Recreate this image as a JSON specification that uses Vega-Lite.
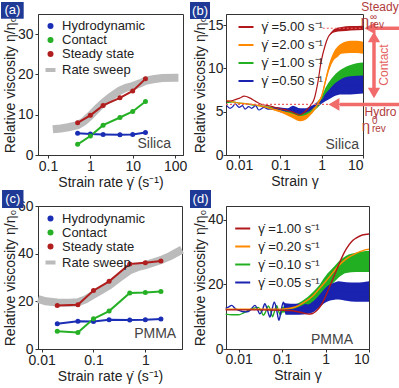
{
"$schema":"https://vega.github.io/schema/vega-lite/v6.json",
"padding":0,
"background":"white",
"columns":2,
"spacing":{"row":51,"column":43},
"bounds":"flush",
"resolve":{"scale":{"color":"independent","fill":"independent"},"legend":{"color":"independent","fill":"independent"}},
"config":{
 "font":"Liberation Sans",
 "view":{"stroke":"#333","strokeWidth":1},
 "axis":{"grid":false,"domainColor":"#333","tickColor":"#333","labelFontSize":14,"titleFontSize":14,"titleFontWeight":"normal","labelColor":"#222","titleColor":"#222","tickSize":3,"labelFont":"Liberation Sans","titleFont":"Liberation Sans"},
 "legend":{"labelFont":"Liberation Sans","labelColor":"#222"},
 "text":{"font":"Liberation Sans"}
},
"datasets":{
 "a_sweep":[{"series":"Rate sweep","x":0.13,"y":6.4},{"series":"Rate sweep","x":0.2,"y":6.6},{"series":"Rate sweep","x":0.3,"y":6.9},{"series":"Rate sweep","x":0.5,"y":7.4},{"series":"Rate sweep","x":0.7,"y":8.3},{"series":"Rate sweep","x":1,"y":9.8},{"series":"Rate sweep","x":1.5,"y":11.7},{"series":"Rate sweep","x":2,"y":12.9},{"series":"Rate sweep","x":3,"y":14.4},{"series":"Rate sweep","x":5,"y":16.0},{"series":"Rate sweep","x":7,"y":16.7},{"series":"Rate sweep","x":10,"y":17.1},{"series":"Rate sweep","x":15,"y":17.8},{"series":"Rate sweep","x":20,"y":18.4},{"series":"Rate sweep","x":30,"y":18.8},{"series":"Rate sweep","x":50,"y":19.1},{"series":"Rate sweep","x":100,"y":19.2},{"series":"Rate sweep","x":120,"y":19.2}],
 "a_pts":[
  {"series":"Hydrodynamic","x":0.5,"y":5.4},{"series":"Hydrodynamic","x":1,"y":5.2},{"series":"Hydrodynamic","x":2,"y":5.1},{"series":"Hydrodynamic","x":5,"y":5.0},{"series":"Hydrodynamic","x":10,"y":5.1},{"series":"Hydrodynamic","x":20,"y":5.6},
  {"series":"Contact","x":0.5,"y":2.65},{"series":"Contact","x":1,"y":4.7},{"series":"Contact","x":2,"y":7.4},{"series":"Contact","x":5,"y":9.3},{"series":"Contact","x":10,"y":10.8},{"series":"Contact","x":20,"y":13.3},
  {"series":"Steady state","x":0.5,"y":8.0},{"series":"Steady state","x":1,"y":9.85},{"series":"Steady state","x":2,"y":12.3},{"series":"Steady state","x":5,"y":14.2},{"series":"Steady state","x":10,"y":15.9},{"series":"Steady state","x":20,"y":18.9}],
 "c_sweep":[{"series":"Rate sweep","x":0.0085,"y":21.0},{"series":"Rate sweep","x":0.012,"y":20.0},{"series":"Rate sweep","x":0.02,"y":19.5},{"series":"Rate sweep","x":0.035,"y":19.4},{"series":"Rate sweep","x":0.05,"y":19.6},{"series":"Rate sweep","x":0.07,"y":20.8},{"series":"Rate sweep","x":0.1,"y":22.8},{"series":"Rate sweep","x":0.15,"y":25.0},{"series":"Rate sweep","x":0.2,"y":26.7},{"series":"Rate sweep","x":0.3,"y":29.6},{"series":"Rate sweep","x":0.5,"y":33.0},{"series":"Rate sweep","x":0.7,"y":34.3},{"series":"Rate sweep","x":1,"y":35.2},{"series":"Rate sweep","x":2,"y":37.3},{"series":"Rate sweep","x":3,"y":39.0},{"series":"Rate sweep","x":5.1,"y":41.7}],
 "c_pts":[
  {"series":"Hydrodynamic","x":0.02,"y":10.6},{"series":"Hydrodynamic","x":0.05,"y":11.6},{"series":"Hydrodynamic","x":0.1,"y":11.5},{"series":"Hydrodynamic","x":0.2,"y":12.3},{"series":"Hydrodynamic","x":0.5,"y":12.2},{"series":"Hydrodynamic","x":1,"y":12.3},{"series":"Hydrodynamic","x":2,"y":12.6},
  {"series":"Contact","x":0.02,"y":7.4},{"series":"Contact","x":0.05,"y":6.9},{"series":"Contact","x":0.1,"y":12.7},{"series":"Contact","x":0.2,"y":15.9},{"series":"Contact","x":0.5,"y":23.5},{"series":"Contact","x":1,"y":23.7},{"series":"Contact","x":2,"y":24.1},
  {"series":"Steady state","x":0.02,"y":18.3},{"series":"Steady state","x":0.05,"y":18.6},{"series":"Steady state","x":0.1,"y":24.5},{"series":"Steady state","x":0.2,"y":28.4},{"series":"Steady state","x":0.5,"y":35.7},{"series":"Steady state","x":1,"y":36.2},{"series":"Steady state","x":2,"y":36.9}],
 "b_curves":[
  {"s":"1.00","x":0.005,"y":6.05,"lo":6.05,"hi":6.05},{"s":"1.00","x":0.007,"y":6.15,"lo":6.15,"hi":6.15},{"s":"1.00","x":0.01,"y":6.0,"lo":6.0,"hi":6.0},{"s":"1.00","x":0.014,"y":5.95,"lo":5.95,"hi":5.95},{"s":"1.00","x":0.02,"y":5.8,"lo":5.8,"hi":5.8},{"s":"1.00","x":0.03,"y":5.7,"lo":5.7,"hi":5.7},{"s":"1.00","x":0.05,"y":5.5,"lo":5.4,"hi":5.6},{"s":"1.00","x":0.07,"y":5.35,"lo":5.2,"hi":5.5},{"s":"1.00","x":0.1,"y":5.2,"lo":5.0,"hi":5.4},{"s":"1.00","x":0.15,"y":5.0,"lo":4.8,"hi":5.2},{"s":"1.00","x":0.2,"y":4.85,"lo":4.65,"hi":5.05},{"s":"1.00","x":0.3,"y":4.65,"lo":4.45,"hi":4.85},{"s":"1.00","x":0.4,"y":4.7,"lo":4.5,"hi":4.9},{"s":"1.00","x":0.5,"y":4.95,"lo":4.75,"hi":5.15},{"s":"1.00","x":0.6,"y":5.2,"lo":4.95,"hi":5.45},{"s":"1.00","x":0.7,"y":5.5,"lo":5.25,"hi":5.75},{"s":"1.00","x":0.8,"y":5.8,"lo":5.5,"hi":6.1},{"s":"1.00","x":1.0,"y":6.4,"lo":6.05,"hi":6.75},{"s":"1.00","x":1.2,"y":7.2,"lo":6.75,"hi":7.65},{"s":"1.00","x":1.5,"y":7.9,"lo":7.35,"hi":8.45},{"s":"1.00","x":2,"y":8.6,"lo":8.0,"hi":9.2},{"s":"1.00","x":3,"y":9.2,"lo":8.5,"hi":9.9},{"s":"1.00","x":5,"y":9.6,"lo":8.8,"hi":10.4},{"s":"1.00","x":7,"y":9.7,"lo":8.8,"hi":10.6},{"s":"1.00","x":10,"y":9.8,"lo":8.8,"hi":10.7},
  {"s":"0.50","x":0.005,"y":5.7,"lo":5.7,"hi":5.7},{"s":"0.50","x":0.006,"y":5.4,"lo":5.4,"hi":5.4},{"s":"0.50","x":0.007,"y":5.6,"lo":5.6,"hi":5.6},{"s":"0.50","x":0.008,"y":5.9,"lo":5.9,"hi":5.9},{"s":"0.50","x":0.01,"y":5.5,"lo":5.5,"hi":5.5},{"s":"0.50","x":0.012,"y":5.7,"lo":5.7,"hi":5.7},{"s":"0.50","x":0.014,"y":5.3,"lo":5.3,"hi":5.3},{"s":"0.50","x":0.017,"y":5.6,"lo":5.6,"hi":5.6},{"s":"0.50","x":0.02,"y":5.4,"lo":5.4,"hi":5.4},{"s":"0.50","x":0.025,"y":5.7,"lo":5.7,"hi":5.7},{"s":"0.50","x":0.03,"y":5.2,"lo":5.2,"hi":5.2},{"s":"0.50","x":0.04,"y":5.5,"lo":5.5,"hi":5.5},{"s":"0.50","x":0.05,"y":5.3,"lo":5.3,"hi":5.3},{"s":"0.50","x":0.07,"y":5.4,"lo":5.25,"hi":5.55},{"s":"0.50","x":0.1,"y":5.2,"lo":4.95,"hi":5.5},{"s":"0.50","x":0.15,"y":5.1,"lo":4.85,"hi":5.4},{"s":"0.50","x":0.2,"y":5.2,"lo":4.85,"hi":5.7},{"s":"0.50","x":0.3,"y":5.0,"lo":4.75,"hi":5.4},{"s":"0.50","x":0.4,"y":5.1,"lo":4.85,"hi":5.4},{"s":"0.50","x":0.5,"y":5.3,"lo":5.05,"hi":5.55},{"s":"0.50","x":0.7,"y":5.7,"lo":5.45,"hi":5.95},{"s":"0.50","x":1.0,"y":6.3,"lo":5.95,"hi":6.65},{"s":"0.50","x":1.5,"y":7.0,"lo":6.45,"hi":7.55},{"s":"0.50","x":2,"y":7.5,"lo":6.8,"hi":8.2},{"s":"0.50","x":3,"y":7.9,"lo":7.0,"hi":8.8},{"s":"0.50","x":5,"y":8.0,"lo":7.0,"hi":9.1},{"s":"0.50","x":10,"y":8.1,"lo":7.1,"hi":9.2},
  {"s":"2.00","x":0.005,"y":6.3,"lo":6.3,"hi":6.3},{"s":"2.00","x":0.007,"y":6.15,"lo":6.15,"hi":6.15},{"s":"2.00","x":0.01,"y":6.0,"lo":6.0,"hi":6.0},{"s":"2.00","x":0.014,"y":5.95,"lo":5.95,"hi":5.95},{"s":"2.00","x":0.02,"y":5.85,"lo":5.85,"hi":5.85},{"s":"2.00","x":0.03,"y":5.7,"lo":5.7,"hi":5.7},{"s":"2.00","x":0.05,"y":5.45,"lo":5.35,"hi":5.55},{"s":"2.00","x":0.07,"y":5.3,"lo":5.15,"hi":5.45},{"s":"2.00","x":0.1,"y":5.1,"lo":4.9,"hi":5.3},{"s":"2.00","x":0.15,"y":4.8,"lo":4.55,"hi":5.05},{"s":"2.00","x":0.2,"y":4.5,"lo":4.25,"hi":4.8},{"s":"2.00","x":0.3,"y":4.2,"lo":3.9,"hi":4.5},{"s":"2.00","x":0.4,"y":4.35,"lo":4.05,"hi":4.65},{"s":"2.00","x":0.5,"y":4.7,"lo":4.45,"hi":4.95},{"s":"2.00","x":0.6,"y":5.1,"lo":4.85,"hi":5.35},{"s":"2.00","x":0.7,"y":5.5,"lo":5.25,"hi":5.75},{"s":"2.00","x":0.8,"y":5.9,"lo":5.65,"hi":6.15},{"s":"2.00","x":1.0,"y":6.8,"lo":6.55,"hi":7.05},{"s":"2.00","x":1.2,"y":8.3,"lo":8.0,"hi":8.6},{"s":"2.00","x":1.5,"y":10.1,"lo":9.7,"hi":10.5},{"s":"2.00","x":2,"y":11.5,"lo":11.0,"hi":12.0},{"s":"2.00","x":2.5,"y":12.0,"lo":11.4,"hi":12.6},{"s":"2.00","x":3,"y":12.3,"lo":11.7,"hi":12.9},{"s":"2.00","x":5,"y":12.5,"lo":11.8,"hi":13.2},{"s":"2.00","x":7,"y":12.5,"lo":11.8,"hi":13.2},{"s":"2.00","x":10,"y":12.4,"lo":11.7,"hi":13.1},
  {"s":"5.00","x":0.005,"y":6.2,"lo":6.2,"hi":6.2},{"s":"5.00","x":0.007,"y":6.3,"lo":6.3,"hi":6.3},{"s":"5.00","x":0.01,"y":6.55,"lo":6.55,"hi":6.55},{"s":"5.00","x":0.0133,"y":6.8,"lo":6.8,"hi":6.8},{"s":"5.00","x":0.018,"y":6.6,"lo":6.6,"hi":6.6},{"s":"5.00","x":0.025,"y":6.2,"lo":6.2,"hi":6.2},{"s":"5.00","x":0.033,"y":5.9,"lo":5.9,"hi":5.9},{"s":"5.00","x":0.05,"y":5.7,"lo":5.7,"hi":5.7},{"s":"5.00","x":0.07,"y":5.55,"lo":5.55,"hi":5.55},{"s":"5.00","x":0.1,"y":5.35,"lo":5.35,"hi":5.35},{"s":"5.00","x":0.15,"y":5.15,"lo":5.15,"hi":5.15},{"s":"5.00","x":0.2,"y":4.95,"lo":4.95,"hi":4.95},{"s":"5.00","x":0.28,"y":4.65,"lo":4.65,"hi":4.65},{"s":"5.00","x":0.35,"y":4.8,"lo":4.8,"hi":4.8},{"s":"5.00","x":0.46,"y":5.35,"lo":5.35,"hi":5.35},{"s":"5.00","x":0.55,"y":5.8,"lo":5.8,"hi":5.8},{"s":"5.00","x":0.66,"y":6.5,"lo":6.5,"hi":6.5},{"s":"5.00","x":0.8,"y":8.3,"lo":8.3,"hi":8.3},{"s":"5.00","x":0.96,"y":10.7,"lo":10.7,"hi":10.7},{"s":"5.00","x":1.2,"y":12.6,"lo":12.6,"hi":12.6},{"s":"5.00","x":1.43,"y":13.6,"lo":13.6,"hi":13.6},{"s":"5.00","x":1.7,"y":14.1,"lo":14.0,"hi":14.2},{"s":"5.00","x":2.07,"y":14.4,"lo":14.2,"hi":14.6},{"s":"5.00","x":3,"y":14.55,"lo":14.3,"hi":14.8},{"s":"5.00","x":5,"y":14.65,"lo":14.4,"hi":14.9},{"s":"5.00","x":10,"y":14.7,"lo":14.45,"hi":14.95}],
 "d_curves":[
  {"s":"0.10","x":0.005,"y":10.8,"lo":10.8,"hi":10.8},{"s":"0.10","x":0.007,"y":10.6,"lo":10.6,"hi":10.6},{"s":"0.10","x":0.01,"y":10.6,"lo":10.6,"hi":10.6},{"s":"0.10","x":0.013,"y":11.2,"lo":11.2,"hi":11.2},{"s":"0.10","x":0.017,"y":12.0,"lo":12.0,"hi":12.0},{"s":"0.10","x":0.022,"y":12.6,"lo":12.6,"hi":12.6},{"s":"0.10","x":0.028,"y":12.9,"lo":12.9,"hi":12.9},{"s":"0.10","x":0.033,"y":11.8,"lo":11.8,"hi":11.8},{"s":"0.10","x":0.037,"y":10.4,"lo":10.4,"hi":10.4},{"s":"0.10","x":0.042,"y":11.6,"lo":11.6,"hi":11.6},{"s":"0.10","x":0.048,"y":13.3,"lo":13.3,"hi":13.3},{"s":"0.10","x":0.054,"y":12.0,"lo":12.0,"hi":12.0},{"s":"0.10","x":0.06,"y":10.0,"lo":10.0,"hi":10.0},{"s":"0.10","x":0.067,"y":11.8,"lo":11.8,"hi":11.8},{"s":"0.10","x":0.075,"y":13.4,"lo":13.4,"hi":13.4},{"s":"0.10","x":0.084,"y":11.5,"lo":11.5,"hi":11.5},{"s":"0.10","x":0.092,"y":10.5,"lo":10.5,"hi":10.5},{"s":"0.10","x":0.1,"y":12.0,"lo":11.2,"hi":13.0},{"s":"0.10","x":0.13,"y":12.3,"lo":11.4,"hi":13.3},{"s":"0.10","x":0.2,"y":12.8,"lo":11.8,"hi":13.8},{"s":"0.10","x":0.3,"y":13.8,"lo":12.6,"hi":15.0},{"s":"0.10","x":0.5,"y":15.9,"lo":14.3,"hi":17.5},{"s":"0.10","x":0.7,"y":17.8,"lo":16.0,"hi":19.6},{"s":"0.10","x":1.0,"y":20.3,"lo":18.0,"hi":22.6},{"s":"0.10","x":1.5,"y":22.8,"lo":20.4,"hi":25.2},{"s":"0.10","x":2,"y":24.6,"lo":22.1,"hi":27.1},{"s":"0.10","x":3,"y":26.2,"lo":23.5,"hi":28.9},{"s":"0.10","x":5,"y":26.8,"lo":23.8,"hi":29.8},{"s":"0.10","x":7,"y":27.0,"lo":23.8,"hi":30.2},{"s":"0.10","x":10,"y":27.0,"lo":23.8,"hi":30.4},
  {"s":"0.05","x":0.005,"y":12.6,"lo":12.6,"hi":12.6},{"s":"0.05","x":0.0058,"y":13.0,"lo":13.0,"hi":13.0},{"s":"0.05","x":0.0069,"y":13.5,"lo":13.5,"hi":13.5},{"s":"0.05","x":0.0082,"y":12.6,"lo":12.6,"hi":12.6},{"s":"0.05","x":0.0098,"y":12.0,"lo":12.0,"hi":12.0},{"s":"0.05","x":0.012,"y":11.6,"lo":11.6,"hi":11.6},{"s":"0.05","x":0.0145,"y":11.5,"lo":11.5,"hi":11.5},{"s":"0.05","x":0.0167,"y":11.6,"lo":11.6,"hi":11.6},{"s":"0.05","x":0.02,"y":12.6,"lo":12.6,"hi":12.6},{"s":"0.05","x":0.0237,"y":13.5,"lo":13.5,"hi":13.5},{"s":"0.05","x":0.027,"y":12.3,"lo":12.3,"hi":12.3},{"s":"0.05","x":0.0306,"y":10.9,"lo":10.9,"hi":10.9},{"s":"0.05","x":0.035,"y":12.0,"lo":12.0,"hi":12.0},{"s":"0.05","x":0.04,"y":14.0,"lo":14.0,"hi":14.0},{"s":"0.05","x":0.046,"y":12.0,"lo":12.0,"hi":12.0},{"s":"0.05","x":0.0522,"y":9.9,"lo":9.9,"hi":9.9},{"s":"0.05","x":0.058,"y":12.0,"lo":12.0,"hi":12.0},{"s":"0.05","x":0.066,"y":14.5,"lo":14.5,"hi":14.5},{"s":"0.05","x":0.075,"y":12.0,"lo":12.0,"hi":12.0},{"s":"0.05","x":0.0842,"y":8.9,"lo":8.9,"hi":8.9},{"s":"0.05","x":0.095,"y":12.0,"lo":12.0,"hi":12.0},{"s":"0.05","x":0.1065,"y":14.5,"lo":14.5,"hi":14.5},{"s":"0.05","x":0.12,"y":12.2,"lo":10.6,"hi":14.2},{"s":"0.05","x":0.2,"y":12.0,"lo":10.6,"hi":14.0},{"s":"0.05","x":0.3,"y":12.0,"lo":10.7,"hi":14.0},{"s":"0.05","x":0.4,"y":12.2,"lo":10.9,"hi":13.8},{"s":"0.05","x":0.5,"y":12.9,"lo":11.3,"hi":14.6},{"s":"0.05","x":0.7,"y":14.6,"lo":12.8,"hi":16.6},{"s":"0.05","x":1.0,"y":16.6,"lo":14.4,"hi":19.0},{"s":"0.05","x":1.5,"y":17.6,"lo":15.2,"hi":20.4},{"s":"0.05","x":2,"y":18.0,"lo":15.3,"hi":21.0},{"s":"0.05","x":3,"y":17.8,"lo":14.9,"hi":20.7},{"s":"0.05","x":5,"y":17.6,"lo":14.6,"hi":20.6},{"s":"0.05","x":10,"y":17.8,"lo":14.6,"hi":21.0},
  {"s":"0.20","x":0.005,"y":12.3,"lo":12.3,"hi":12.3},{"s":"0.20","x":0.01,"y":12.3,"lo":12.3,"hi":12.3},{"s":"0.20","x":0.03,"y":12.3,"lo":12.3,"hi":12.3},{"s":"0.20","x":0.1,"y":12.35,"lo":12.35,"hi":12.35},{"s":"0.20","x":0.15,"y":12.6,"lo":12.6,"hi":12.6},{"s":"0.20","x":0.2,"y":13.0,"lo":13.0,"hi":13.0},{"s":"0.20","x":0.3,"y":14.2,"lo":14.2,"hi":14.2},{"s":"0.20","x":0.4,"y":15.3,"lo":15.3,"hi":15.3},{"s":"0.20","x":0.5,"y":16.3,"lo":16.3,"hi":16.3},{"s":"0.20","x":0.7,"y":18.5,"lo":18.5,"hi":18.5},{"s":"0.20","x":1,"y":20.9,"lo":20.9,"hi":20.9},{"s":"0.20","x":1.5,"y":23.8,"lo":23.8,"hi":23.8},{"s":"0.20","x":2,"y":25.8,"lo":25.8,"hi":25.8},{"s":"0.20","x":3,"y":27.9,"lo":27.9,"hi":27.9},{"s":"0.20","x":5,"y":29.6,"lo":29.6,"hi":29.6},{"s":"0.20","x":7,"y":30.4,"lo":30.4,"hi":30.4},{"s":"0.20","x":10,"y":30.9,"lo":30.9,"hi":30.9},
  {"s":"1.00","x":0.005,"y":12.1,"lo":12.1,"hi":12.1},{"s":"1.00","x":0.03,"y":12.1,"lo":12.1,"hi":12.1},{"s":"1.00","x":0.1,"y":12.0,"lo":12.0,"hi":12.0},{"s":"1.00","x":0.15,"y":11.9,"lo":11.9,"hi":11.9},{"s":"1.00","x":0.2,"y":11.7,"lo":11.7,"hi":11.7},{"s":"1.00","x":0.3,"y":11.2,"lo":11.2,"hi":11.2},{"s":"1.00","x":0.4,"y":10.8,"lo":10.8,"hi":10.8},{"s":"1.00","x":0.5,"y":11.0,"lo":11.0,"hi":11.0},{"s":"1.00","x":0.6,"y":11.7,"lo":11.7,"hi":11.7},{"s":"1.00","x":0.7,"y":12.6,"lo":12.6,"hi":12.6},{"s":"1.00","x":0.85,"y":14.3,"lo":14.3,"hi":14.3},{"s":"1.00","x":1,"y":16.3,"lo":16.3,"hi":16.3},{"s":"1.00","x":1.2,"y":18.8,"lo":18.8,"hi":18.8},{"s":"1.00","x":1.5,"y":22.0,"lo":22.0,"hi":22.0},{"s":"1.00","x":2,"y":26.0,"lo":26.0,"hi":26.0},{"s":"1.00","x":2.5,"y":29.0,"lo":29.0,"hi":29.0},{"s":"1.00","x":3,"y":31.0,"lo":31.0,"hi":31.0},{"s":"1.00","x":4,"y":33.3,"lo":33.3,"hi":33.3},{"s":"1.00","x":5,"y":34.3,"lo":34.3,"hi":34.3},{"s":"1.00","x":7,"y":35.3,"lo":35.3,"hi":35.3},{"s":"1.00","x":10,"y":35.6,"lo":35.6,"hi":35.6}],
 "one":[{}]
},
"concat":[
 {
  "width":145,"height":141,
  "layer":[
   {"data":{"name":"a_sweep"},"mark":{"type":"line","strokeWidth":8,"strokeCap":"butt"},
    "encoding":{
     "x":{"field":"x","type":"quantitative","scale":{"type":"log","domain":[0.058,154],"nice":false},"axis":{"values":[0.1,1,10,100],"format":"~g","title":"Strain rate γ̇ (s⁻¹)","labelPadding":1,"titlePadding":2}},
     "y":{"field":"y","type":"quantitative","scale":{"domain":[0,35],"nice":false},"axis":{"values":[0,10,20,30],"title":"Relative viscosity η/η₀","labelPadding":2,"titlePadding":0}},
     "color":{"field":"series","type":"nominal","scale":{"domain":["Hydrodynamic","Contact","Steady state","Rate sweep"],"range":["#1a2eb5","#25b025","#b01e1e","#bbbbbb"]},
      "legend":{"orient":"none","legendX":6,"legendY":5.5,"title":null,"labelFontSize":13,"rowPadding":0,"labelOffset":5,"padding":0,
       "encode":{"symbols":{"update":{
        "shape":{"signal":"datum.value === 'Rate sweep' ? 'stroke' : 'circle'"},
        "size":{"signal":"datum.value === 'Rate sweep' ? 100 : 36"},
        "strokeWidth":{"signal":"datum.value === 'Rate sweep' ? 4 : 0"},
        "stroke":{"signal":"datum.value === 'Rate sweep' ? '#bbbbbb' : 'transparent'"},
        "fill":{"signal":"datum.value === 'Hydrodynamic' ? '#1a2eb5' : datum.value === 'Contact' ? '#25b025' : datum.value === 'Steady state' ? '#b01e1e' : 'transparent'"},
        "opacity":{"value":1}}}}}}}},
   {"data":{"name":"a_pts"},"mark":{"type":"line","strokeWidth":2},
    "encoding":{"x":{"field":"x","type":"quantitative"},"y":{"field":"y","type":"quantitative"},"color":{"field":"series","type":"nominal"}}},
   {"data":{"name":"a_pts"},"mark":{"type":"point","filled":true,"size":25,"opacity":1},
    "encoding":{"x":{"field":"x","type":"quantitative"},"y":{"field":"y","type":"quantitative"},"color":{"field":"series","type":"nominal"}}},
   {"data":{"name":"one"},"mark":{"type":"text","text":"Silica","align":"right","baseline":"middle","fontSize":14,"color":"#444"},"encoding":{"x":{"datum":80},"y":{"datum":2.73}}},
   {"data":{"name":"one"},"mark":{"type":"rect","color":"#1f3a96"},"encoding":{"x":{"datum":0.00776},"x2":{"datum":0.02665},"y":{"datum":37.98},"y2":{"datum":33.83}}},
   {"data":{"name":"one"},"mark":{"type":"text","text":"(a)","color":"white","fontSize":13,"align":"center","baseline":"middle"},"encoding":{"x":{"datum":0.01438},"y":{"datum":35.91}}}
  ]
 },
 {
  "width":137,"height":141,
  "layer":[
   {"data":{"name":"b_curves"},"mark":{"type":"area","opacity":1,"interpolate":"monotone"},
    "encoding":{
     "x":{"field":"x","type":"quantitative","scale":{"type":"log","domain":[0.0048,10],"nice":false},"axis":{"values":[0.01,0.1,1,10],"format":"~g","title":"Strain γ","labelPadding":0,"titlePadding":2}},
     "y":{"field":"lo","type":"quantitative","scale":{"domain":[0,16.3],"nice":false},"axis":{"values":[0,5,10,15],"title":"Relative viscosity η/η₀","labelPadding":0,"titlePadding":0}},
     "y2":{"field":"hi"},
     "color":{"field":"s","type":"nominal","scale":{"domain":["5.00","2.00","1.00","0.50"],"range":["#b0181c","#ff8a00","#22b022","#1a22b0"]},
      "legend":{"orient":"none","legendX":11.5,"legendY":4.5,"title":null,"symbolType":"stroke","symbolSize":225,"symbolStrokeWidth":2,"labelFontSize":13,"labelOffset":7,"rowPadding":2,"padding":0,"labelExpr":"'γ̇ =' + datum.label + ' s⁻¹'",
       "encode":{"symbols":{"update":{"shape":{"value":"stroke"},"strokeWidth":{"value":2},"fill":{"value":"transparent"},"opacity":{"value":1},
        "stroke":{"signal":"datum.value === '5.00' ? '#b0181c' : datum.value === '2.00' ? '#ff8a00' : datum.value === '1.00' ? '#22b022' : '#1a22b0'"}}}}}}}},
   {"data":{"name":"b_curves"},"mark":{"type":"line","strokeWidth":1.2,"interpolate":"monotone"},
    "encoding":{"x":{"field":"x","type":"quantitative"},"y":{"field":"y","type":"quantitative"},
     "color":{"field":"s","type":"nominal"}}},
   {"data":{"name":"one"},"mark":{"type":"rule","color":"#f06060","strokeWidth":1.2,"strokeDash":[2,2]},"encoding":{"x":{"datum":0.0048},"x2":{"datum":10},"y":{"datum":5.85}}},
   {"data":{"name":"one"},"mark":{"type":"rule","color":"#f06060","strokeWidth":1.2,"strokeDash":[2,2]},"encoding":{"x":{"datum":1.06},"x2":{"datum":10},"y":{"datum":14.65}}},
   {"data":{"name":"one"},"mark":{"type":"rule","color":"#f26b6b","strokeWidth":3.5},"encoding":{"x":{"datum":15.6},"x2":{"datum":83.3},"y":{"datum":14.65}}},
   {"data":{"name":"one"},"mark":{"type":"rule","color":"#f26b6b","strokeWidth":3.5},"encoding":{"x":{"datum":2.77},"x2":{"datum":83.3},"y":{"datum":5.85}}},
   {"data":{"name":"one"},"mark":{"type":"rule","color":"#f26b6b","strokeWidth":3.5},"encoding":{"x":{"datum":18.46},"y":{"datum":13.64},"y2":{"datum":7.17}}},
   {"data":{"name":"one"},"mark":{"type":"point","shape":"triangle-left","filled":true,"size":160,"opacity":1,"color":"#f26b6b"},"encoding":{"x":{"datum":14.8},"y":{"datum":14.65}}},
   {"data":{"name":"one"},"mark":{"type":"point","shape":"triangle-left","filled":true,"size":160,"opacity":1,"color":"#f26b6b"},"encoding":{"x":{"datum":1.98},"y":{"datum":5.85}}},
   {"data":{"name":"one"},"mark":{"type":"point","shape":"triangle-up","filled":true,"size":150,"opacity":1,"color":"#f26b6b"},"encoding":{"x":{"datum":18.46},"y":{"datum":13.64}}},
   {"data":{"name":"one"},"mark":{"type":"point","shape":"triangle-down","filled":true,"size":150,"opacity":1,"color":"#f26b6b"},"encoding":{"x":{"datum":18.46},"y":{"datum":7.17}}},
   {"data":{"name":"one"},"mark":{"type":"text","text":"Contact","angle":270,"align":"center","baseline":"middle","fontSize":12,"color":"#e46060"},"encoding":{"x":{"datum":32.3},"y":{"datum":10.4}}},
   {"data":{"name":"one"},"mark":{"type":"text","text":"Steady","align":"center","baseline":"middle","fontSize":12,"color":"#b03c3c"},"encoding":{"x":{"datum":25.8},"y":{"datum":17.1}}},
   {"data":{"name":"one"},"mark":{"type":"text","text":"η","align":"center","baseline":"middle","fontSize":15,"color":"#b03c3c"},"encoding":{"x":{"datum":11.18},"y":{"datum":15.45}}},
   {"data":{"name":"one"},"mark":{"type":"text","text":"∞","align":"left","baseline":"middle","fontSize":10,"color":"#b03c3c"},"encoding":{"x":{"datum":14.8},"y":{"datum":15.95}}},
   {"data":{"name":"one"},"mark":{"type":"text","text":"rev","align":"left","baseline":"middle","fontSize":10,"color":"#b03c3c"},"encoding":{"x":{"datum":14.8},"y":{"datum":15.0}}},
   {"data":{"name":"one"},"mark":{"type":"text","text":"Hydro","align":"center","baseline":"middle","fontSize":12,"color":"#b03c3c"},"encoding":{"x":{"datum":26.5},"y":{"datum":5.0}}},
   {"data":{"name":"one"},"mark":{"type":"text","text":"η","align":"center","baseline":"middle","fontSize":15,"color":"#b03c3c"},"encoding":{"x":{"datum":11.82},"y":{"datum":3.4}}},
   {"data":{"name":"one"},"mark":{"type":"text","text":"0","align":"left","baseline":"middle","fontSize":10,"color":"#b03c3c"},"encoding":{"x":{"datum":16.5},"y":{"datum":3.95}}},
   {"data":{"name":"one"},"mark":{"type":"text","text":"rev","align":"left","baseline":"middle","fontSize":10,"color":"#b03c3c"},"encoding":{"x":{"datum":16.5},"y":{"datum":2.95}}},
   {"data":{"name":"one"},"mark":{"type":"text","text":"Silica","align":"right","baseline":"middle","fontSize":14,"color":"#444"},"encoding":{"x":{"datum":8.0},"y":{"datum":1.16}}},
   {"data":{"name":"one"},"mark":{"type":"rect","color":"#1f3a96"},"encoding":{"x":{"datum":0.000645},"x2":{"datum":0.001967},"y":{"datum":17.69},"y2":{"datum":15.72}}},
   {"data":{"name":"one"},"mark":{"type":"text","text":"(b)","color":"white","fontSize":13,"align":"center","baseline":"middle"},"encoding":{"x":{"datum":0.001126},"y":{"datum":16.7}}}
  ]
 },
 {
  "width":144,"height":143,
  "layer":[
   {"data":{"name":"c_sweep"},"mark":{"type":"line","strokeWidth":8,"strokeCap":"butt"},
    "encoding":{
     "x":{"field":"x","type":"quantitative","scale":{"type":"log","domain":[0.0085,5.1],"nice":false},"axis":{"values":[0.01,0.1,1],"format":"~g","title":"Strain rate γ̇ (s⁻¹)","labelPadding":1,"titlePadding":2}},
     "y":{"field":"y","type":"quantitative","scale":{"domain":[0,60],"nice":false},"axis":{"values":[0,20,40,60],"title":"Relative viscosity η/η₀","labelPadding":2,"titlePadding":0}},
     "color":{"field":"series","type":"nominal","scale":{"domain":["Hydrodynamic","Contact","Steady state","Rate sweep"],"range":["#1a2eb5","#25b025","#b01e1e","#bbbbbb"]},
      "legend":{"orient":"none","legendX":6,"legendY":6,"title":null,"labelFontSize":13,"rowPadding":0,"labelOffset":5,"padding":0,
       "encode":{"symbols":{"update":{
        "shape":{"signal":"datum.value === 'Rate sweep' ? 'stroke' : 'circle'"},
        "size":{"signal":"datum.value === 'Rate sweep' ? 100 : 36"},
        "strokeWidth":{"signal":"datum.value === 'Rate sweep' ? 4 : 0"},
        "stroke":{"signal":"datum.value === 'Rate sweep' ? '#bbbbbb' : 'transparent'"},
        "fill":{"signal":"datum.value === 'Hydrodynamic' ? '#1a2eb5' : datum.value === 'Contact' ? '#25b025' : datum.value === 'Steady state' ? '#b01e1e' : 'transparent'"},
        "opacity":{"value":1}}}}}}}},
   {"data":{"name":"c_pts"},"mark":{"type":"line","strokeWidth":2},
    "encoding":{"x":{"field":"x","type":"quantitative"},"y":{"field":"y","type":"quantitative"},"color":{"field":"series","type":"nominal"}}},
   {"data":{"name":"c_pts"},"mark":{"type":"point","filled":true,"size":25,"opacity":1},
    "encoding":{"x":{"field":"x","type":"quantitative"},"y":{"field":"y","type":"quantitative"},"color":{"field":"series","type":"nominal"}}},
   {"data":{"name":"one"},"mark":{"type":"text","text":"PMMA","align":"right","baseline":"middle","fontSize":14,"color":"#444"},"encoding":{"x":{"datum":3.93},"y":{"datum":6.3}}},
   {"data":{"name":"one"},"mark":{"type":"rect","color":"#1f3a96"},"encoding":{"x":{"datum":0.00172},"x2":{"datum":0.00446},"y":{"datum":66.71},"y2":{"datum":59.16}}},
   {"data":{"name":"one"},"mark":{"type":"text","text":"(c)","color":"white","fontSize":13,"align":"center","baseline":"middle"},"encoding":{"x":{"datum":0.00277},"y":{"datum":62.94}}}
  ]
 },
 {
  "width":143,"height":143,
  "layer":[
   {"data":{"name":"d_curves"},"mark":{"type":"area","opacity":1,"interpolate":"monotone"},
    "encoding":{
     "x":{"field":"x","type":"quantitative","scale":{"type":"log","domain":[0.0051,10],"nice":false},"axis":{"values":[0.01,0.1,1,10],"format":"~g","title":"Strain γ","labelPadding":0,"titlePadding":2}},
     "y":{"field":"lo","type":"quantitative","scale":{"domain":[0,44.27],"nice":false},"axis":{"values":[0,10,20,30,40],"title":"Relative viscosity η/η₀","labelPadding":0,"titlePadding":0}},
     "y2":{"field":"hi"},
     "color":{"field":"s","type":"nominal","scale":{"domain":["1.00","0.20","0.10","0.05"],"range":["#b0181c","#ff8a00","#22b022","#1a22b0"]},
      "legend":{"orient":"none","legendX":8.2,"legendY":14,"title":null,"symbolType":"stroke","symbolSize":225,"symbolStrokeWidth":2,"labelFontSize":13,"labelOffset":7,"rowPadding":2,"padding":0,"labelExpr":"'γ̇ =' + datum.label + ' s⁻¹'",
       "encode":{"symbols":{"update":{"shape":{"value":"stroke"},"strokeWidth":{"value":2},"fill":{"value":"transparent"},"opacity":{"value":1},
        "stroke":{"signal":"datum.value === '1.00' ? '#b0181c' : datum.value === '0.20' ? '#ff8a00' : datum.value === '0.10' ? '#22b022' : '#1a22b0'"}}}}}}}},
   {"data":{"name":"d_curves"},"mark":{"type":"line","strokeWidth":1.4,"interpolate":"monotone"},
    "encoding":{"x":{"field":"x","type":"quantitative"},"y":{"field":"y","type":"quantitative"},
     "color":{"field":"s","type":"nominal"}}},
   {"data":{"name":"one"},"mark":{"type":"text","text":"PMMA","align":"right","baseline":"middle","fontSize":14,"color":"#444"},"encoding":{"x":{"datum":4.28},"y":{"datum":2.79}}},
   {"data":{"name":"one"},"mark":{"type":"rect","color":"#1f3a96"},"encoding":{"x":{"datum":0.000756},"x2":{"datum":0.002303},"y":{"datum":49.22},"y2":{"datum":43.65}}},
   {"data":{"name":"one"},"mark":{"type":"text","text":"(d)","color":"white","fontSize":13,"align":"center","baseline":"middle"},"encoding":{"x":{"datum":0.00132},"y":{"datum":46.44}}}
  ]
 }
]
}
